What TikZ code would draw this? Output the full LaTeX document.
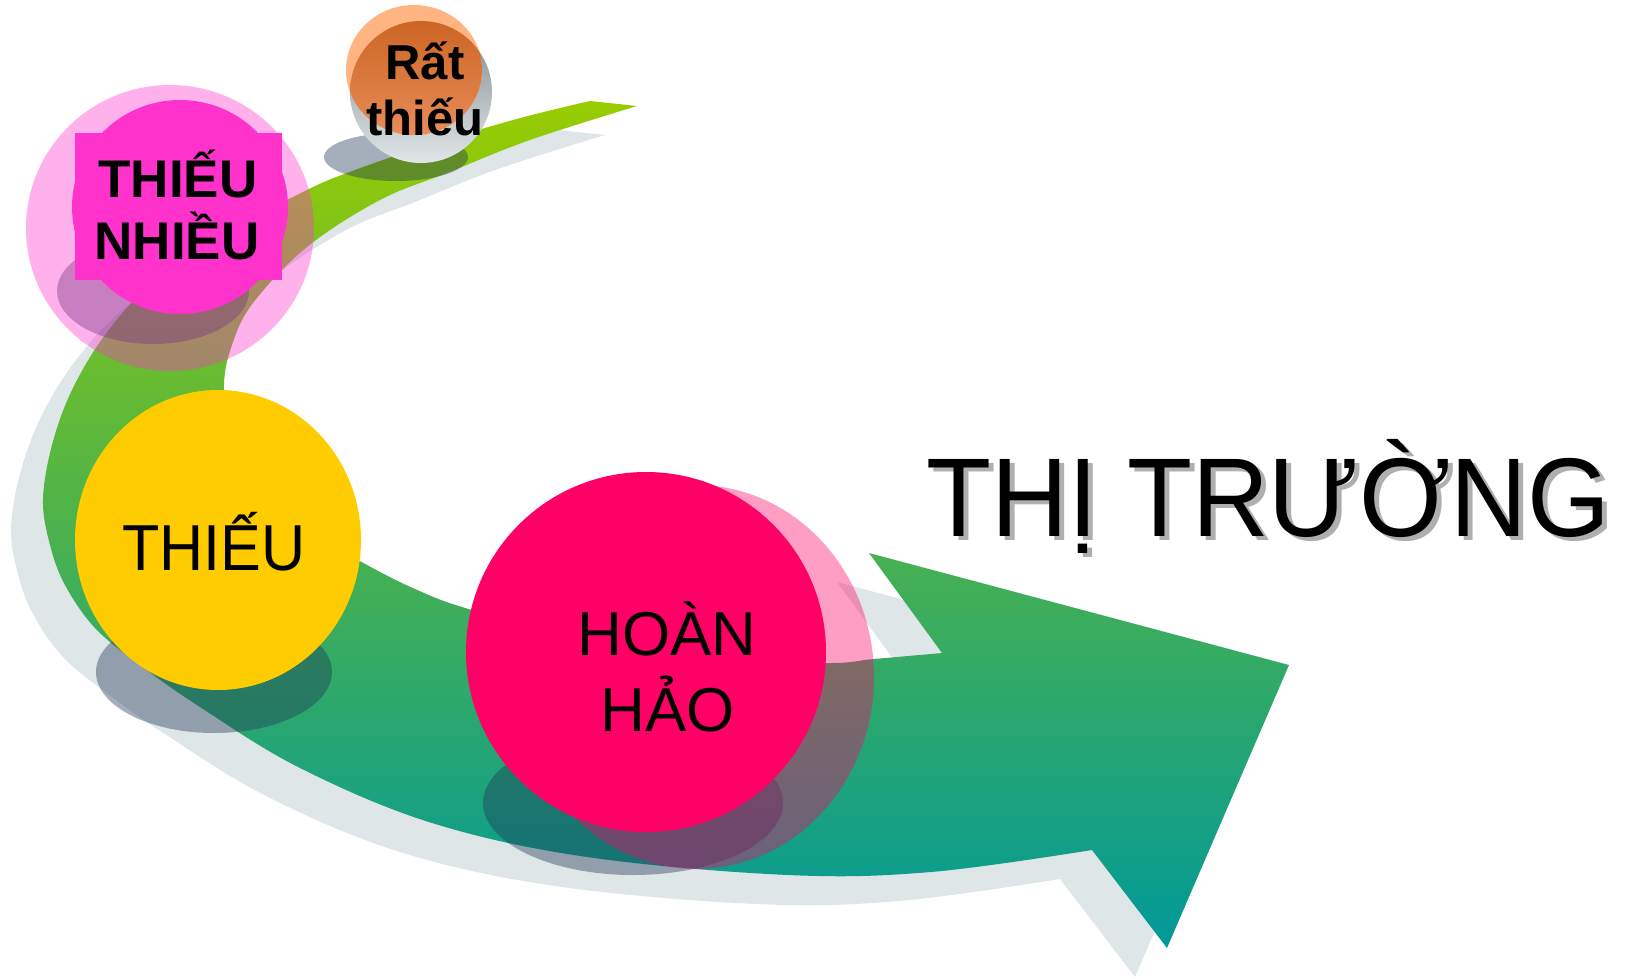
\documentclass[tikz,border=0pt]{standalone}
\usepackage{fontspec}
\setmainfont{Liberation Sans}
\definecolor{arrowtop}{RGB}{153,204,0}
\definecolor{arrowbot}{RGB}{0,153,153}
\definecolor{arrowshadow}{RGB}{223,230,232}
\definecolor{shadowdark}{RGB}{30,52,84}
\definecolor{pinkA}{RGB}{255,51,204}
\definecolor{pinkB}{RGB}{255,0,102}
\definecolor{yellowA}{RGB}{255,204,0}
\definecolor{peach}{RGB}{255,180,130}
\definecolor{orangeTop}{RGB}{200,96,28}
\definecolor{orangeBot}{RGB}{232,140,90}
\definecolor{sphereTop}{RGB}{128,136,140}
\definecolor{sphereBot}{RGB}{225,231,233}
\definecolor{textshadow}{RGB}{175,175,175}
\newcommand{\myarrow}[1]{\path[#1] (637,106) -- plot[smooth, tension=0.6] coordinates {(590,101) (513,120) (413,150) (347,173) (307,190) (215,238) (150,285) (105,335) (72,390) (52,445) (43,500) (50,545) (65,585) (95,628) (140,665) (200,707) (300,768) (432,823) (587,857) (788,875) (931,872) (1092,850)} -- (1167,948) -- (1289,665) -- (869,553) -- plot[smooth, tension=0.6] coordinates {(942,653) (874,659) (825,663) (700,657) (600,643) (472,610) (415,589) (358,560) (300,525) (255,480) (230,430) (224,385) (232,345) (253,303) (307,247) (380,200) (447,173) (530,140) (637,106)} -- cycle;}
\begin{document}
\begin{tikzpicture}[x=1pt,y=-1pt,
  lbl/.style={inner sep=0pt, text=black},
  dropshade/.style={fill=shadowdark, fill opacity=0.4}]
\useasboundingbox (0,0) rectangle (1626,979);
% arrow shadow and arrow
\myarrow{fill=arrowshadow, shift={(-32,29)}}
\myarrow{top color=arrowtop, bottom color=arrowbot}
% drop shadows of the balls
\fill[dropshade] (153,291) ellipse [x radius=96, y radius=53];
\fill[dropshade] (214,672) ellipse [x radius=118, y radius=61];
\fill[dropshade] (633,803) ellipse [x radius=150, y radius=72];
\fill[dropshade] (396,157) ellipse [x radius=72, y radius=24];
% THIEU NHIEU ball
\fill[pinkA, fill opacity=0.38] (170,228) ellipse [x radius=144, y radius=143];
\fill[pinkA] (180,207) ellipse [x radius=108, y radius=107];
\fill[pinkA] (75,133) rectangle (282,280);
% THIEU ball
\fill[yellowA] (218,540) ellipse [x radius=143, y radius=150];
% HOAN HAO ball
\fill[pinkB, fill opacity=0.38] (696,677) ellipse [x radius=178, y radius=192];
\fill[pinkB] (646,652) circle [radius=180];
% Rat thieu ball
\shade[top color=sphereTop, bottom color=sphereBot] (421,92) ellipse [x radius=71, y radius=71];
\fill[peach] (414,70) ellipse [x radius=68, y radius=65];
\begin{scope}
  \clip (421,92) ellipse [x radius=71, y radius=71];
  \shade[top color=orangeTop, bottom color=orangeBot] (414,70) ellipse [x radius=68, y radius=65];
\end{scope}
% texts
\node[lbl, anchor=base, font=\bfseries\fontsize{53}{60}\selectfont] (tn1) at (178,197) {THIẾU};
\node[lbl, anchor=base, font=\bfseries\fontsize{53}{60}\selectfont] (tn2) at (177,259) {NHIỀU};
\node[lbl, anchor=base, font=\bfseries\fontsize{49}{56}\selectfont] (rt1) at (425,80) {Rất};
\node[lbl, anchor=base, font=\bfseries\fontsize{49}{56}\selectfont] (rt2) at (425,136) {thiếu};
\node[lbl, anchor=base, xscale=0.94, font=\fontsize{65}{70}\selectfont] (th) at (214,570) {THIẾU};
\node[lbl, anchor=base, font=\fontsize{62}{66}\selectfont] (hh1) at (667,655) {HOÀN};
\node[lbl, anchor=base, font=\fontsize{62}{66}\selectfont] (hh2) at (668,731) {HẢO};
\node[lbl, anchor=base west, xscale=0.95, text=textshadow, font=\fontsize{112}{120}\selectfont] (tts) at (931,540) {THỊ TRƯỜNG};
\node[lbl, anchor=base west, xscale=0.95, font=\fontsize{112}{120}\selectfont] (tt) at (926,536) {THỊ TRƯỜNG};
\end{tikzpicture}
\end{document}
